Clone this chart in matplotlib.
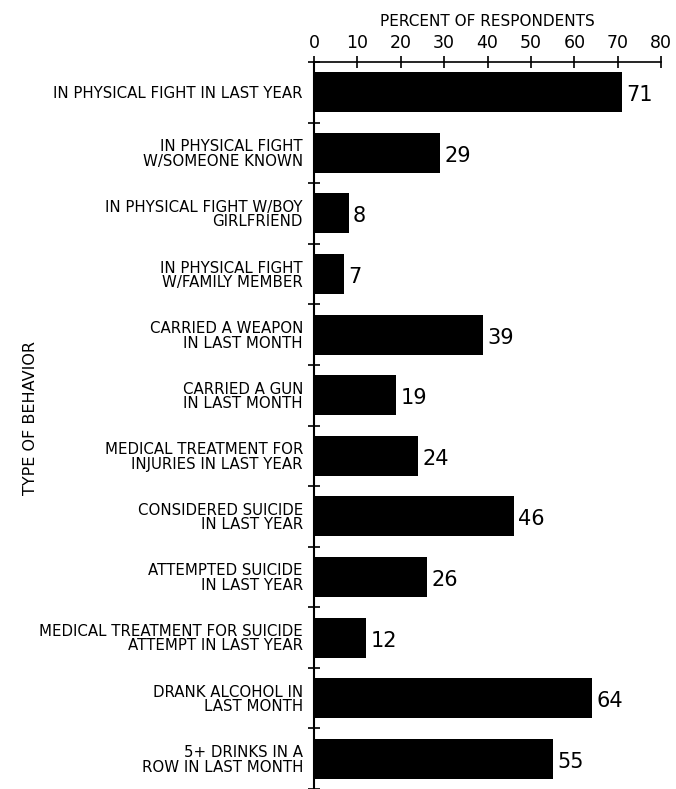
import matplotlib
matplotlib.use("Agg")
import matplotlib.pyplot as plt
import numpy as np

categories = [
    "IN PHYSICAL FIGHT IN LAST YEAR",
    "IN PHYSICAL FIGHT\nW/SOMEONE KNOWN",
    "IN PHYSICAL FIGHT W/BOY\nGIRLFRIEND",
    "IN PHYSICAL FIGHT\nW/FAMILY MEMBER",
    "CARRIED A WEAPON\nIN LAST MONTH",
    "CARRIED A GUN\nIN LAST MONTH",
    "MEDICAL TREATMENT FOR\nINJURIES IN LAST YEAR",
    "CONSIDERED SUICIDE\nIN LAST YEAR",
    "ATTEMPTED SUICIDE\nIN LAST YEAR",
    "MEDICAL TREATMENT FOR SUICIDE\nATTEMPT IN LAST YEAR",
    "DRANK ALCOHOL IN\nLAST MONTH",
    "5+ DRINKS IN A\nROW IN LAST MONTH",
]
values = [71, 29, 8, 7, 39, 19, 24, 46, 26, 12, 64, 55]
xticks = [0, 10, 20, 30, 40, 50, 60, 70, 80]

plt.rcParams['font.family'] = ['DejaVu Sans']
fig = plt.figure(figsize=(6.76, 7.89), dpi=100)
ax = fig.add_axes([0.4645, 0.0, 0.5135, 0.9214])

n = len(categories)
y = np.arange(n)
ax.barh(y, values, height=0.66, color='black')
ax.set_ylim(n - 0.5, -0.5)
ax.set_xlim(0, 80)

for yi, v in zip(y, values):
    ax.text(v + 1.0, yi + 0.05, str(v), va='center', ha='left', fontsize=15)

ax.xaxis.set_ticks_position('top')
ax.xaxis.set_label_position('top')
ax.set_xticks(xticks)
ax.set_xticklabels([str(t) for t in xticks], fontsize=12.5)
ax.set_xlabel("PERCENT OF RESPONDENTS", fontsize=11, labelpad=6)
ax.tick_params(axis='x', direction='inout', length=8, width=1.2, pad=3)

ax.set_yticks(y)
ax.set_yticklabels(categories, fontsize=10.8, linespacing=0.95)
ax.tick_params(axis='y', which='major', length=0, pad=8)
ax.set_yticks(np.arange(n + 1) - 0.5, minor=True)
ax.tick_params(axis='y', which='minor', direction='inout', length=8, width=1.2)

for s in ['right', 'bottom']:
    ax.spines[s].set_visible(False)
ax.spines['left'].set_linewidth(1.5)
ax.spines['top'].set_linewidth(1.2)

fig.text(0.045, 0.47, "TYPE OF BEHAVIOR", rotation=90, va='center', ha='center', fontsize=11.5)

fig.savefig("out.png", dpi=100)
